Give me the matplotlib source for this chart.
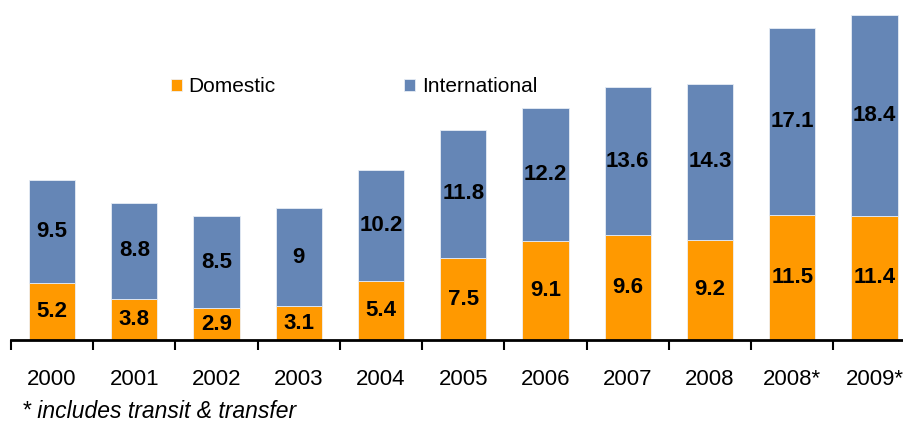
import matplotlib.pyplot as plt
import numpy as np

plt.rcParams['font.family'] = ['Liberation Sans', 'DejaVu Sans']

years = ['2000', '2001', '2002', '2003', '2004', '2005', '2006', '2007', '2008', '2008*', '2009*']
domestic = [5.2, 3.8, 2.9, 3.1, 5.4, 7.5, 9.1, 9.6, 9.2, 11.5, 11.4]
international = [9.5, 8.8, 8.5, 9, 10.2, 11.8, 12.2, 13.6, 14.3, 17.1, 18.4]

orange = '#FF9900'
blue = '#6586B6'

fig = plt.figure(figsize=(9.04, 4.23), dpi=100)
px_per_unit = 10.9
ax = fig.add_axes([10.9 / 904, 83 / 423, 82.25 * 11 / 904, 31 * px_per_unit / 423])

x = np.arange(len(years))
width = 0.56
ax.bar(x, domestic, width, color=orange, edgecolor='#f0f0f0', linewidth=0.6, label='Domestic')
ax.bar(x, international, width, bottom=domestic, color=blue, edgecolor='#e6ecf5',
       linewidth=0.6, label='International')

# value labels centred in each segment
for i in range(len(years)):
    d = domestic[i]
    n = international[i]
    ax.text(x[i], d / 2, f'{d:g}', ha='center', va='center',
            fontsize=16, fontweight='bold', color='black')
    ax.text(x[i], d + n / 2, f'{n:g}', ha='center', va='center',
            fontsize=16, fontweight='bold', color='black')

ax.set_xlim(-0.5, len(years) - 0.5)
ax.set_ylim(0, 31)

for side in ['top', 'right', 'left']:
    ax.spines[side].set_visible(False)
ax.spines['bottom'].set_linewidth(2)
ax.yaxis.set_visible(False)

ax.set_xticks(x)
ax.set_xticklabels(years, fontsize=16)
ax.tick_params(axis='x', which='major', length=0, pad=21)
ax.set_xticks(np.arange(-0.5, len(years), 1), minor=True)
ax.tick_params(axis='x', which='minor', length=7, width=1.5, direction='out')

leg = ax.legend(loc='center left', bbox_to_anchor=(171 / 904, 1 - 87 / 423),
                bbox_transform=fig.transFigure, ncol=2, frameon=False,
                fontsize=15, handlelength=0.55, handleheight=0.55,
                handletextpad=0.3, columnspacing=6.15, borderpad=0, borderaxespad=0)

fig.text(22 / 904, 1 - 411 / 423, '* includes transit & transfer', fontsize=16.5,
         fontstyle='italic', va='center', ha='left')

fig.savefig('out.png', dpi=100)
